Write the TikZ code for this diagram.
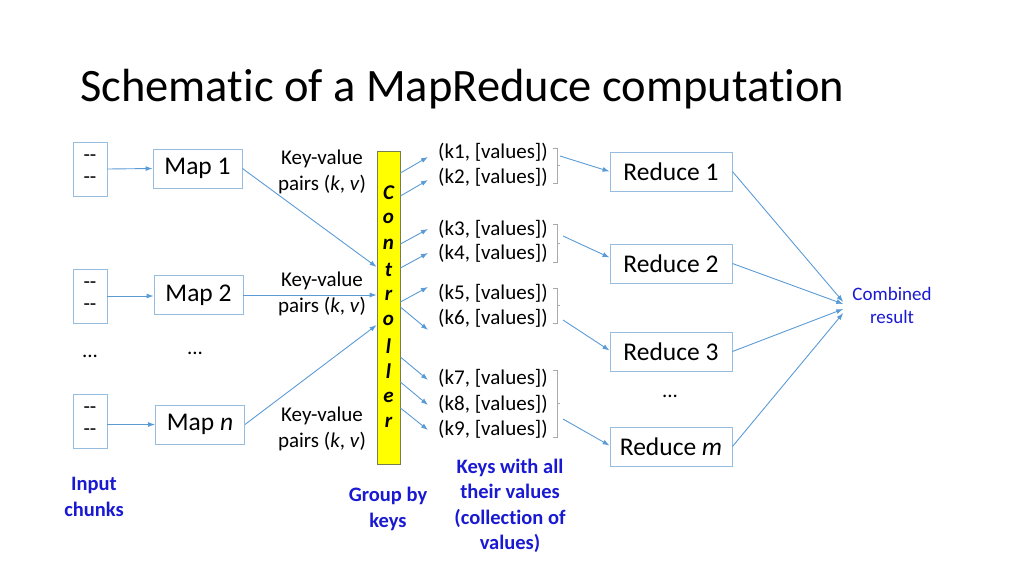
\documentclass[tikz,border=0pt]{standalone}
\usepackage{fontspec}
\setmainfont{Carlito}[Ligatures={TeX,NoCommon}]
\usetikzlibrary{calc,arrows.meta}

\definecolor{arrowblue}{RGB}{91,155,213}
\definecolor{boxblue}{RGB}{150,188,224}
\definecolor{noteblue}{RGB}{25,25,210}
\definecolor{ctrlyellow}{RGB}{255,255,0}
\definecolor{ctrledge}{RGB}{120,125,80}
\definecolor{bracegray}{RGB}{170,170,170}

\tikzset{
  arr/.style={draw=arrowblue, line width=0.9pt, -{Latex[length=7pt,width=5pt]}},
  chunk/.style={draw=boxblue, line width=0.9pt, minimum width=34pt, minimum height=54pt,
    inner sep=0pt, align=center, font=\fontsize{21}{22}\selectfont},
  task/.style={draw=boxblue, line width=0.9pt, minimum height=39pt, inner sep=0pt,
    font=\fontsize{25.5}{28}\selectfont},
  kv/.style={align=center, inner sep=0pt, font=\fontsize{21}{25.5}\selectfont},
  keytxt/.style={anchor=west, inner sep=2pt, font=\fontsize{21}{24}\selectfont},
  ctrltxt/.style={inner sep=0pt, font=\bfseries\itshape\fontsize{21}{21}\selectfont},
  note/.style={align=center, inner sep=0pt, text=noteblue, font=\bfseries\fontsize{20.5}{25.5}\selectfont},
  brace/.style={draw=bracegray, line width=0.7pt},
}

\begin{document}
\begin{tikzpicture}[x=1pt, y=-1pt]
    \useasboundingbox (0,0) rectangle (1024,576);

    \node[anchor=base west, inner sep=0pt, font=\fontsize{46.5}{50}\selectfont] (title) at (80,101)
        {Schematic of a MapReduce computation};

    % input chunks
    \node[chunk] (in1) at (90,169) {-{}-\\-{}-};
    \node[chunk] (in2) at (90,296) {-{}-\\-{}-};
    \node[chunk] (in3) at (90,421) {-{}-\\-{}-};
    \node[font=\fontsize{21}{22}\selectfont] (dots1) at (90,356) {...};

    % map tasks
    \node[task, minimum width=89pt] (map1) at (197.5,168.5) {Map 1};
    \node[task, minimum width=89pt] (map2) at (198.5,295) {Map 2};
    \node[task, minimum width=89pt] (mapn) at (200,424.5) {Map \textit{n}};
    \node[font=\fontsize{21}{22}\selectfont] (dots2) at (195,353) {...};

    \draw[arr] (in1.east) -- (map1.west);
    \draw[arr] (in2.east) -- (map2.west |- in2.east);
    \draw[arr] (in3.east |- mapn.west) -- (mapn.west);

    \node[kv] (kv1) at (322,172) {Key-value\\pairs (\textit{k}, \textit{v})};
    \node[kv] (kv2) at (322,294) {Key-value\\pairs (\textit{k}, \textit{v})};
    \node[kv] (kv3) at (322,429) {Key-value\\pairs (\textit{k}, \textit{v})};

    % controller
    \node[draw=ctrledge, fill=ctrlyellow, line width=0.8pt, minimum width=23pt,
        minimum height=313pt, inner sep=0pt] (ctrl) at (388.5,307.5) {};
    \foreach \ch [count=\i from 0] in {C,o,n,t,r,o,l,l,e,r}
        \node[ctrltxt] (c\i) at (388.5,{193+25.5*\i}) {\ch};

    \draw[arr] (map1.east) -- (ctrl.west |- 0,267);
    \draw[arr] (map2.east) -- (ctrl.west |- 0,295);
    \draw[arr] (mapn.east) -- (ctrl.west |- 0,325);

    % keys with their values
    \foreach \k/\y in {1/152,2/177,3/229,4/253,5/293,6/318,7/378,8/404,9/429}
        \node[keytxt] (k\k) at (436,\y) {(k\k, [values])};

    \foreach \k/\sy/\dy in {1/173/5,2/196/3,3/244/0,4/268/0,5/302/-6,6/307/12,7/357/2,8/382/1,9/408/1}
        \draw[arr] (ctrl.east |- 0,\sy) -- ($(k\k.west)+(-8,\dy)$);

    \foreach \t/\b in {148/183,224/262,288/323,370/437}
        \draw[brace] (553,\t) -- (557,\t) -- (557,\b) -- (553,\b)
            (557,{(\t+\b)/2}) -- (560,{(\t+\b)/2});

    \coordinate (g1) at (560,156);
    \coordinate (g2) at (563,236);
    \coordinate (g3) at (563,320);
    \coordinate (g4) at (563,419);

    % reduce tasks
    \node[task, minimum width=122pt] (r1) at (671,171.5) {Reduce 1};
    \node[task, minimum width=122pt] (r2) at (671,263.5) {Reduce 2};
    \node[task, minimum width=122pt] (r3) at (671,351.5) {Reduce 3};
    \node[task, minimum width=122pt] (r4) at (671,446.5) {Reduce \textit{m}};
    \node[font=\fontsize{21}{22}\selectfont] (dots3) at (670,396) {...};

    \foreach \i/\dy in {1/0,2/-6,3/-1,4/-1}
        \draw[arr] (g\i) -- ($(r\i.west)+(0,\dy)$);

    \node[align=center, inner sep=0pt, text=noteblue, font=\fontsize{19}{23}\selectfont] (res) at (892,305)
        {Combined\\result};

    \foreach \i/\dy in {1/-3,2/-1,3/4,4/8}
        \draw[arr] (r\i.east) -- ($(res.west)+(-9,\dy)$);

    % notes
    \node[note] (note1) at (94,497) {Input\\chunks};
    \node[note] (note2) at (388,509) {Group by\\keys};
    \node[note] (note3) at (510,506) {Keys with all\\their values\\(collection of\\values)};
\end{tikzpicture}
\end{document}
